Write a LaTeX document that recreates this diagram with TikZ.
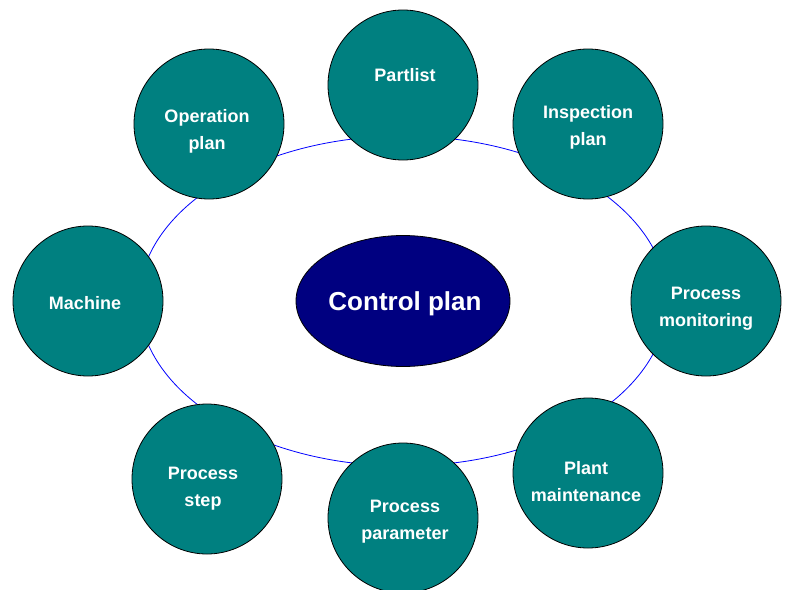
\documentclass[tikz,border=0pt]{standalone}
\usepackage{fontspec}
\setmainfont{Liberation Sans}
\usetikzlibrary{shapes.geometric}
\definecolor{cpteal}{HTML}{008080}
\definecolor{cpnavy}{HTML}{000080}

\begin{document}
\begin{tikzpicture}[x=1pt, y=-1pt,
    disc/.style={circle, draw=black, line width=0.8pt, fill=cpteal, minimum size=150pt, inner sep=0pt},
    lbl/.style={text=white, font=\fontsize{18}{27}\selectfont\bfseries, align=center, inner sep=0pt}]
    \useasboundingbox (0,0) rectangle (787,589);

    % ring behind the circles
    \node[ellipse, draw=blue, line width=0.8pt, minimum width=528pt, minimum height=330pt, inner sep=0pt] (orbit) at (403,301) {};

    \node[disc] (partlist) at (403,85) {};
    \node[lbl] (partlist-t) at (405,75) {Partlist};
    \node[disc] (inspection) at (588,124) {};
    \node[lbl] (inspection-t) at (588,127) {Inspection\\plan};
    \node[disc] (monitoring) at (706,301) {};
    \node[lbl] (monitoring-t) at (706,309) {Process\\monitoring};
    \node[disc] (maintenance) at (588,473) {};
    \node[lbl] (maintenance-t) at (586,482) {Plant\\maintenance};
    \node[disc] (parameter) at (403,518) {};
    \node[lbl] (parameter-t) at (405,522) {Process\\parameter};
    \node[disc] (step) at (207,479) {};
    \node[lbl] (step-t) at (203,489) {Process\\step};
    \node[disc] (machine) at (88,301) {};
    \node[lbl] (machine-t) at (85,303) {Machine};
    \node[disc] (operation) at (209,124) {};
    \node[lbl] (operation-t) at (207,131) {Operation\\plan};

    \node[ellipse, draw=black, line width=0.8pt, fill=cpnavy, minimum width=214pt, minimum height=131pt, inner sep=0pt] (control) at (403,301) {};
    \node[text=white, font=\fontsize{26}{30}\selectfont\bfseries, inner sep=0pt] (control-t) at (405,304) {Control plan};
  \end{tikzpicture}
\end{document}
